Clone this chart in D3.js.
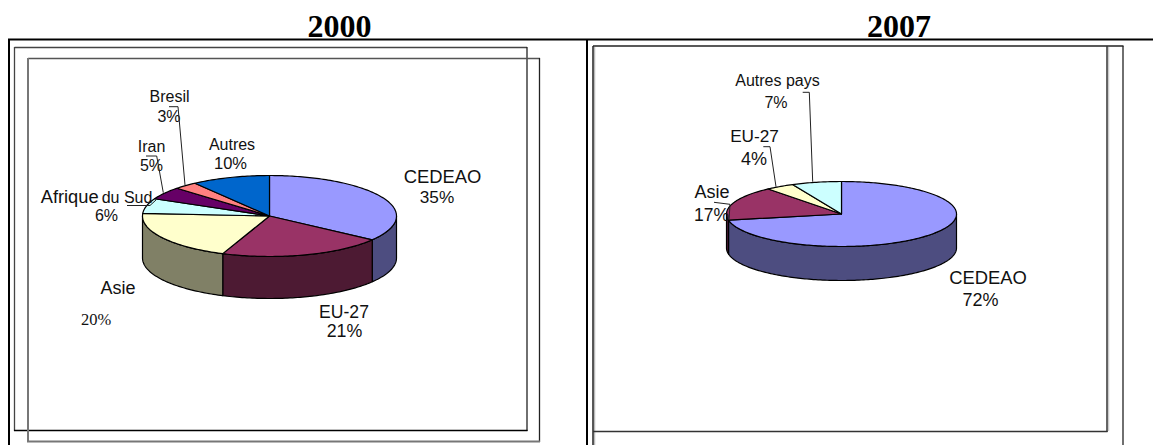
<!DOCTYPE html>
<html>
<head>
<meta charset="utf-8">
<script src="https://cdn.jsdelivr.net/npm/d3@7"></script>
<style>
    html, body { margin: 0; padding: 0; background: #fff; }
    svg { display: block; }
    text { font-family: "Liberation Sans", Arial, sans-serif; fill: #111; }
    .serif { font-family: "Liberation Serif", "Times New Roman", serif; }
</style>
</head>
<body>
<svg id="chart" width="1153" height="445"></svg>
<script>
// values
var categories2000 = ["CEDEAO", "EU-27", "Asie", "Afrique du Sud", "Iran", "Bresil", "Autres"];
var values2000 = [35, 21, 20, 6, 5, 3, 10];
var colors2000 = ["#9999ff", "#993366", "#ffffcc", "#ccffff", "#660066", "#ff8080", "#0066cc"];

var categories2007 = ["CEDEAO", "Asie", "EU-27", "Autres pays"];
var values2007 = [72, 17, 4, 7];
var colors2007 = ["#9999ff", "#993366", "#ffffcc", "#ccffff"];

var titles = ["2000", "2007"];

// page layout, kept apart from the values
var pieLayout2000 = {cx: 269.5, cy: 216, rx: 127, ry: 40.5, depth: 42};
var pieLayout2007 = {cx: 841.5, cy: 214, rx: 115, ry: 32.5, depth: 34};

// [x, y, font size] for the name and for the percent
var labels2000 = {
    "CEDEAO": {name: [442.5, 183, 18.4], pct: [437, 203, 17.2]},
    "EU-27": {name: [344, 317.5, 17.6], pct: [344.5, 336.5, 17.8]},
    "Asie": {name: [118, 294, 18], pct: [96, 324.5, 16.5], serifPct: true},
    "Afrique du Sud": {name: [40.7, 202.7, 18.3], pct: [106.5, 220.7, 16]},
    "Iran": {name: [151.5, 151.7, 16], pct: [151.5, 171, 16]},
    "Bresil": {name: [169.5, 101.7, 16], pct: [169, 121.7, 16]},
    "Autres": {name: [232, 150, 16], pct: [230.5, 169, 16.5]}
};
var labels2007 = {
    "CEDEAO": {name: [988, 284, 18.4], pct: [980.5, 306, 18]},
    "Asie": {name: [712, 197.7, 18], pct: [711.5, 221, 17.5]},
    "EU-27": {name: [754.5, 141.7, 17.2], pct: [754, 165, 18]},
    "Autres pays": {name: [777.5, 86, 16], pct: [776, 108, 16]}
};

var leaders = [
    [[169, 106.7], [178, 106.7], [185, 185]],
    [[146, 156], [156.7, 156], [163.3, 192.7]],
    [[127, 205.5], [150, 205.5], [156, 200]],
    [[802.7, 92.3], [809.3, 92.3], [812.7, 181.7]],
    [[763.3, 146.7], [770, 146.7], [776, 186.7]],
    [[714, 202.3], [730, 204.3], [729, 220]]
];

// table rules and the two chart frames: x1, y1, x2, y2, colour, width
var frameLines = [
    [8, 39.5, 1153, 39.5, "#000", 2],
    [9, 39, 9, 445, "#000", 2],
    [587, 39, 587, 445, "#000", 2],
    [14.5, 47.5, 527, 47.5, "#444", 1.3],
    [14.5, 47, 14.5, 431, "#444", 1.3],
    [527, 47, 527, 431, "#222", 1.3],
    [14, 430.5, 527.5, 430.5, "#000", 1.3],
    [28, 58.5, 540, 58.5, "#555", 1.5],
    [28, 58, 28, 442, "#777", 2],
    [539.5, 58, 539.5, 442, "#222", 1.3],
    [27, 441.5, 540, 441.5, "#777", 1.8],
    [594.5, 47, 594.5, 445, "#bbb", 1.5],
    [1108.5, 47, 1108.5, 431, "#ccc", 1.5],
    [593, 46, 1123.5, 46, "#222", 1.5],
    [593, 46, 593, 445, "#222", 1.5],
    [1107, 46, 1107, 432, "#333", 1.5],
    [1123, 46, 1123, 445, "#222", 1.3],
    [593, 431.5, 1107.5, 431.5, "#333", 1.5]
];

var svg = d3.select("#chart");

svg.selectAll("line.frame")
    .data(frameLines)
    .enter()
    .append("line")
    .attr("class", "frame")
    .attr("x1", function (d) { return d[0]; })
    .attr("y1", function (d) { return d[1]; })
    .attr("x2", function (d) { return d[2]; })
    .attr("y2", function (d) { return d[3]; })
    .attr("stroke", function (d) { return d[4]; })
    .attr("stroke-width", function (d) { return d[5]; });

svg.selectAll("text.title")
    .data(titles)
    .enter()
    .append("text")
    .attr("class", "title serif")
    .attr("x", function (d, i) { return i === 0 ? 339.5 : 899; })
    .attr("y", 37)
    .attr("text-anchor", "middle")
    .style("font-weight", "bold")
    .style("font-size", "32px")
    .style("fill", "#000")
    .text(function (d) { return d; });

//
// A tilted pie: d3.pie gives the angles, the two scales project the unit circle
//
var drawPie = function (values, colors, layout) {
    var x = d3.scaleLinear().domain([-1, 1]).range([layout.cx - layout.rx, layout.cx + layout.rx]),
        y = d3.scaleLinear().domain([-1, 1]).range([layout.cy - layout.ry, layout.cy + layout.ry]),
        line = d3.line();

    var slices = d3.pie().sort(null)(values);

    var rim = function (a0, a1) {
        var steps = Math.max(2, Math.ceil((a1 - a0) / 0.02));
        return d3.range(steps + 1).map(function (i) {
            var a = a0 + (a1 - a0) * i / steps;
            return [x(Math.sin(a)), y(-Math.cos(a))];
        });
    };

    var g = svg.append("g")
        .attr("stroke", "#000")
        .attr("stroke-width", 1.2)
        .attr("stroke-linejoin", "round");

    // only the front half of the rim has a visible wall
    slices.forEach(function (s, i) {
        var a0 = Math.max(s.startAngle, Math.PI / 2),
            a1 = Math.min(s.endAngle, Math.PI * 1.5);
        if (a1 <= a0) return;
        var top = rim(a0, a1),
            bottom = top.map(function (p) { return [p[0], p[1] + layout.depth]; }).reverse();
        g.append("path")
            .attr("d", line(top.concat(bottom)) + "Z")
            .attr("fill", d3.interpolateRgb(colors[i], "#000")(0.5));
    });

    g.selectAll("path.top")
        .data(slices)
        .enter()
        .append("path")
        .attr("class", "top")
        .attr("fill", function (d, i) { return colors[i]; })
        .attr("d", function (d) {
            return line([[x(0), y(0)]].concat(rim(d.startAngle, d.endAngle))) + "Z";
        });
};

var drawLabels = function (categories, values, layout) {
    categories.forEach(function (name, i) {
        var spot = layout[name];
        if (name === "Afrique du Sud") {
            // the name was typed in two sizes
            svg.append("text").attr("x", spot.name[0]).attr("y", spot.name[1])
                .style("font-size", spot.name[2] + "px").text("Afrique");
            svg.append("text").attr("x", 101.7).attr("y", spot.name[1])
                .style("font-size", "16px").text("du Sud");
        } else {
            svg.append("text").attr("x", spot.name[0]).attr("y", spot.name[1])
                .attr("text-anchor", "middle")
                .style("font-size", spot.name[2] + "px").text(name);
        }
        svg.append("text").attr("x", spot.pct[0]).attr("y", spot.pct[1])
            .attr("class", spot.serifPct ? "serif" : null)
            .attr("text-anchor", "middle")
            .style("font-size", spot.pct[2] + "px").text(values[i] + "%");
    });
};

drawPie(values2000, colors2000, pieLayout2000);
drawPie(values2007, colors2007, pieLayout2007);

drawLabels(categories2000, values2000, labels2000);
drawLabels(categories2007, values2007, labels2007);

svg.selectAll("path.leader")
    .data(leaders)
    .enter()
    .append("path")
    .attr("class", "leader")
    .attr("d", d3.line())
    .attr("fill", "none")
    .attr("stroke", "#222")
    .attr("stroke-width", 1);
</script>
</body>
</html>
